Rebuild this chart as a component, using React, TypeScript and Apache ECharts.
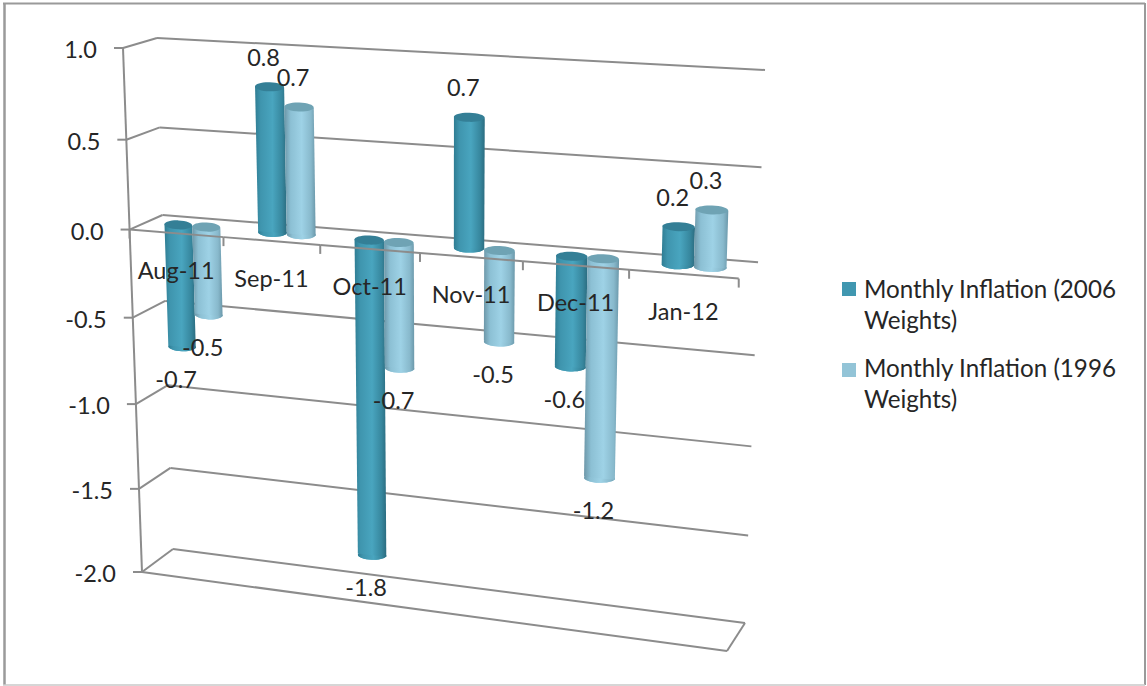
import React, { useEffect, useRef } from "react";
import * as echarts from "echarts";

const categories = ["Aug-11", "Sep-11", "Oct-11", "Nov-11", "Dec-11", "Jan-12"];
const inflation2006 = [-0.7, 0.8, -1.8, 0.7, -0.6, 0.2];
const inflation1996 = [-0.5, 0.7, -0.7, -0.5, -1.2, 0.3];
const yTicks = [1, 0.5, 0, -0.5, -1, -1.5, -2];
const seriesNames = ["Monthly Inflation (2006\nWeights)", "Monthly Inflation (1996\nWeights)"];

const FONT = "Lato";
const TEXT = "#262626";
const WALL = "#8c8c8c";

type Pt = [number, number];

// Maps the unit square onto a quadrilateral (corners clockwise from top-left).
function makeHomography(q: Pt[]) {
  const [[x0, y0], [x1, y1], [x2, y2], [x3, y3]] = q;
  const dx1 = x1 - x2, dx2 = x3 - x2, sx = x0 - x1 + x2 - x3;
  const dy1 = y1 - y2, dy2 = y3 - y2, sy = y0 - y1 + y2 - y3;
  const det = dx1 * dy2 - dx2 * dy1;
  const g = (sx * dy2 - dx2 * sy) / det;
  const h = (dx1 * sy - sx * dy1) / det;
  const a = x1 - x0 + g * x1, b = x3 - x0 + h * x3;
  const d = y1 - y0 + g * y1, e = y3 - y0 + h * y3;
  return (u: number, v: number): Pt => {
    const w = g * u + h * v + 1;
    return [(a * u + b * v + x0) / w, (d * u + e * v + y0) / w];
  };
}

// The box the plot is viewed in: its front and back faces on screen.
const frontFace = makeHomography([[123, 48], [745, 80], [727, 651], [142, 572]]);
const backFace = makeHomography([[157, 38], [765, 70], [745, 623], [173, 549]]);

// depth 0 is the front face of the box, depth 1 the back wall.
function project(cs: any, gx: number, gy: number, depth: number): Pt {
  const u = (gx - cs.x) / cs.width;
  const v = (gy - cs.y) / cs.height;
  const f = frontFace(u, v);
  const b = backFace(u, v);
  return [f[0] + (b[0] - f[0]) * depth, f[1] + (b[1] - f[1]) * depth];
}

function line(p: Pt, q: Pt, stroke = WALL, lineWidth = 2) {
  return {
    type: "line",
    shape: { x1: p[0], y1: p[1], x2: q[0], y2: q[1] },
    style: { stroke, lineWidth },
  };
}

function label(text: string, x: number, y: number, align = "center") {
  return {
    type: "text",
    style: { text, x, y, align, verticalAlign: "middle", fontFamily: FONT, fontSize: 23.5, fill: TEXT },
  };
}

// Walls, value gridlines, floor and value labels.
function renderWalls(params: any, api: any) {
  const cs = params.coordSys;
  const value = api.value(1);
  const gy = api.coord([0, value])[1];
  const left = cs.x, right = cs.x + cs.width;
  const frontLeft = project(cs, left, gy, 0);
  const backLeft = project(cs, left, gy, 1);
  const backRight = project(cs, right, gy, 1);
  const children: any[] = [
    line([frontLeft[0] - 9, frontLeft[1]], frontLeft),
    line(frontLeft, backLeft),
    line(backLeft, backRight),
    label(value.toFixed(1), frontLeft[0] - 26, frontLeft[1] + 1, "right"),
  ];
  if (params.dataIndex === 0) {
    children.push(line(frontLeft, project(cs, left, cs.y + cs.height, 0)));
  }
  if (value === yTicks[yTicks.length - 1]) {
    const frontRight = project(cs, right, gy, 0);
    children.push(line(frontLeft, frontRight), line(frontRight, backRight));
  }
  return { type: "group", children };
}

// Category axis on the front edge of the zero plane; it passes in front of the bars.
function renderCategoryAxis(params: any, api: any) {
  const cs = params.coordSys;
  const i = api.value(0);
  const [gx, gy] = api.coord([i, 0]);
  const band = api.size([1, 0])[0];
  const start = project(cs, gx - band / 2, gy, 0);
  const end = project(cs, gx + band / 2, gy, 0);
  const mid = project(cs, gx, gy, 0);
  const children: any[] = [
    line(start, end),
    line(end, [end[0], end[1] + 9]),
    label(categories[i], mid[0], mid[1] + 37),
  ];
  if (i === 0) children.push(line(start, [start[0], start[1] + 9]));
  return { type: "group", children };
}

const BAR_WIDTH = 0.3;
const BAR_DEPTH = 0.5;

function renderCylinder(shift: number, body: [number, string][], cap: string, base: string) {
  return (params: any, api: any) => {
    const cs = params.coordSys;
    const i = api.value(0);
    const value = api.value(1);
    const band = api.size([1, 0])[0];
    const cx = api.coord([i, 0])[0] + shift * band;
    const half = (BAR_WIDTH * band) / 2;
    const y0 = api.coord([i, 0])[1];
    const y1 = api.coord([i, value])[1];
    const up = value >= 0;
    const topY = up ? y1 : y0;
    const botY = up ? y0 : y1;

    const tl = project(cs, cx - half, topY, BAR_DEPTH);
    const tr = project(cs, cx + half, topY, BAR_DEPTH);
    const bl = project(cs, cx - half, botY, BAR_DEPTH);
    const br = project(cs, cx + half, botY, BAR_DEPTH);
    const rotation = -0.5 * Math.atan2(tr[1] - tl[1], tr[0] - tl[0]);
    const ry = 4.5;

    const ellipse = (a: Pt, b: Pt, fill: any) => ({
      type: "ellipse",
      x: (a[0] + b[0]) / 2,
      y: (a[1] + b[1]) / 2,
      rotation,
      shape: { cx: 0, cy: 0, rx: Math.abs(b[0] - a[0]) / 2, ry },
      style: { fill },
    });
    const gradient = new echarts.graphic.LinearGradient(
      0, 0, 1, 0,
      body.map(([offset, color]) => ({ offset, color }))
    );
    const end = up ? [(tl[0] + tr[0]) / 2, (tl[1] + tr[1]) / 2] : [(bl[0] + br[0]) / 2, (bl[1] + br[1]) / 2];

    return {
      type: "group",
      children: [
        ellipse(bl, br, base),
        ellipse(bl, br, gradient),
        { type: "polygon", shape: { points: [tl, tr, br, bl] }, style: { fill: gradient } },
        ellipse(tl, tr, cap),
        label(value.toFixed(1), end[0] - 6, up ? end[1] - 30 : end[1] + 32),
      ],
    };
  };
}

const darkBody: [number, string][] = [
  [0, "#2f7d93"], [0.18, "#3f95ae"], [0.55, "#49a5bf"], [0.85, "#37879e"], [1, "#2b6c80"],
];
const lightBody: [number, string][] = [
  [0, "#6d97a8"], [0.2, "#8cc0d4"], [0.55, "#9ed2e6"], [0.85, "#88b9cc"], [1, "#6b98aa"],
];

const option = {
  animation: false,
  backgroundColor: "#ffffff",
  grid: { left: 130, top: 50, width: 600, height: 520, containLabel: false },
  xAxis: { type: "category", data: categories, show: false },
  yAxis: { type: "value", min: -2, max: 1, interval: 0.5, show: false },
  series: [
    {
      name: "walls",
      type: "custom",
      z: 1,
      silent: true,
      clip: false,
      coordinateSystem: "cartesian2d",
      data: yTicks.map((v) => [0, v]),
      encode: { x: 0, y: 1 },
      renderItem: renderWalls,
    },
    {
      name: seriesNames[0],
      type: "custom",
      z: 2,
      silent: true,
      clip: false,
      itemStyle: { color: "#4097b0" },
      data: inflation2006.map((v, i) => [i, v]),
      encode: { x: 0, y: 1 },
      renderItem: renderCylinder(-0.15, darkBody, "#347f96", "#3f9fb9"),
    },
    {
      name: seriesNames[1],
      type: "custom",
      z: 3,
      silent: true,
      clip: false,
      itemStyle: { color: "#93c4d7" },
      data: inflation1996.map((v, i) => [i, v]),
      encode: { x: 0, y: 1 },
      renderItem: renderCylinder(0.15, lightBody, "#6fa3b4", "#9ed2e6"),
    },
    {
      name: "category axis",
      type: "custom",
      z: 4,
      silent: true,
      clip: false,
      data: categories.map((_, i) => [i, 0]),
      encode: { x: 0, y: 1 },
      renderItem: renderCategoryAxis,
    },
  ],
  graphic: [
    { type: "line", silent: true, shape: { x1: 4.5, y1: 3, x2: 4.5, y2: 685 }, style: { stroke: "#9a9a9a", lineWidth: 2.5 } },
    { type: "line", silent: true, shape: { x1: 3, y1: 3.5, x2: 1145, y2: 3.5 }, style: { stroke: "#9a9a9a", lineWidth: 2 } },
    { type: "line", silent: true, shape: { x1: 1145, y1: 3, x2: 1145, y2: 685 }, style: { stroke: "#9a9a9a", lineWidth: 2 } },
    { type: "line", silent: true, shape: { x1: 3, y1: 685, x2: 1145, y2: 685 }, style: { stroke: "#c8c8c8", lineWidth: 1.5 } },
    { type: "rect", silent: true, shape: { x: 842, y: 282, width: 14, height: 14 }, style: { fill: "#4097b0" } },
    { type: "rect", silent: true, shape: { x: 842, y: 363, width: 14, height: 14 }, style: { fill: "#93c4d7" } },
    {
      type: "text", silent: true, x: 864, y: 273,
      style: { text: seriesNames[0], fontFamily: FONT, fontSize: 24.2, lineHeight: 31, fill: TEXT },
    },
    {
      type: "text", silent: true, x: 864, y: 352,
      style: { text: seriesNames[1], fontFamily: FONT, fontSize: 24.2, lineHeight: 31, fill: TEXT },
    },
  ],
};

export default function App() {
  const ref = useRef<HTMLDivElement>(null);
  useEffect(() => {
    if (!ref.current) return;
    const chart = echarts.init(ref.current, undefined, { renderer: "svg" });
    chart.setOption(option as any);
    return () => chart.dispose();
  }, []);
  return <div ref={ref} style={{ position: "absolute", left: 0, top: 0, width: 1147, height: 686 }} />;
}
